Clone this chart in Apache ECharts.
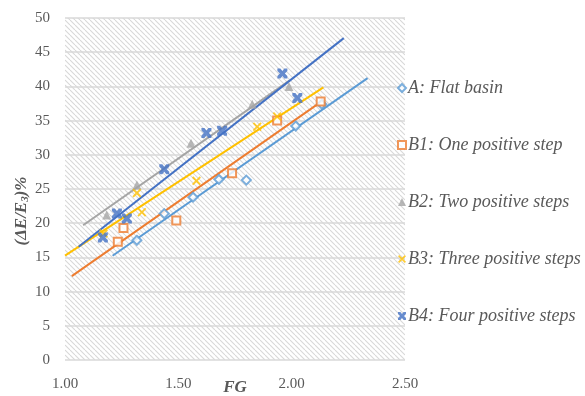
<!DOCTYPE html>
<html>
<head>
<meta charset="utf-8">
<script src="https://cdn.jsdelivr.net/npm/echarts@6/dist/echarts.min.js"></script>
<style>
  html, body { margin: 0; padding: 0; background: #fff; }
  #main { width: 585px; height: 396px; }
</style>
</head>
<body>
<div id="main"></div>
<script>
// 数据：FG - (ΔE/E3)%
var names = ['A: Flat basin', 'B1: One positive step', 'B2: Two positive steps', 'B3: Three positive steps', 'B4: Four positive steps'];
var dataA = [[1.317, 17.5], [1.438, 21.4], [1.565, 23.8], [1.679, 26.4], [1.80, 26.3], [2.018, 34.2], [2.133, 37.4]];
var dataB1 = [[1.233, 17.3], [1.258, 19.3], [1.491, 20.4], [1.737, 27.3], [1.936, 35.0], [2.128, 37.8]];
var dataB2 = [[1.184, 21.2], [1.317, 25.6], [1.556, 31.7], [1.826, 37.4], [1.988, 40.0]];
var dataB3 = [[1.17, 18.5], [1.317, 24.4], [1.339, 21.6], [1.58, 26.2], [1.848, 34.1], [1.936, 35.6]];
var dataB4 = [[1.167, 17.9], [1.229, 21.4], [1.273, 20.7], [1.438, 27.9], [1.624, 33.2], [1.693, 33.5], [1.959, 41.9], [2.025, 38.3]];
// 趋势线的x范围（含前推/后推）
var trendRange = [[1.21, 2.335], [1.03, 2.14], [1.08, 1.99], [1.00, 2.14], [1.06, 2.23]];
var xTicks = [1.0, 2.5, 0.5];
var yTicks = [0, 50, 5];

var colors = ['#5B9BD5', '#ED7D31', '#A5A5A5', '#FFC000', '#4472C4'];
var allData = [dataA, dataB1, dataB2, dataB3, dataB4];

// 线性回归
function fitLine(pts, range) {
    var n = pts.length, sx = 0, sy = 0;
    pts.forEach(function (p) { sx += p[0]; sy += p[1]; });
    var mx = sx / n, my = sy / n, sxy = 0, sxx = 0;
    pts.forEach(function (p) { sxy += (p[0] - mx) * (p[1] - my); sxx += (p[0] - mx) * (p[0] - mx); });
    var k = sxy / sxx, b = my - k * mx;
    return range.map(function (x) { return [x, k * x + b]; });
}

// 斜线底纹
function hatch() {
    var s = 5;
    var c = document.createElement('canvas');
    c.width = s; c.height = s;
    var ctx = c.getContext('2d');
    ctx.fillStyle = '#fff';
    ctx.fillRect(0, 0, s, s);
    ctx.strokeStyle = '#d8d8d8';
    ctx.lineWidth = 1.1;
    [-s, 0, s].forEach(function (k) {
        ctx.beginPath();
        ctx.moveTo(k, 0);
        ctx.lineTo(k + s, s);
        ctx.stroke();
    });
    return c;
}

var symbols = [
    'diamond',
    'rect',
    'triangle',
    'path://M0,1.5 L1.5,0 L5,3.5 L8.5,0 L10,1.5 L6.5,5 L10,8.5 L8.5,10 L5,6.5 L1.5,10 L0,8.5 L3.5,5 Z',
    'path://M0,0 L3,0 L5,2.5 L7,0 L10,0 L10,2.5 L7.5,5 L10,7.5 L10,10 L7,10 L5,7.5 L3,10 L0,10 L0,7.5 L2.5,5 L0,2.5 Z'
];
var sizes = [9, 8, 9, 9, 10];
var hollow = [true, true, false, false, false];

var series = [];
allData.forEach(function (d, i) {
    series.push({
        type: 'line',
        data: fitLine(d, trendRange[i]),
        showSymbol: false,
        silent: true,
        z: 2,
        lineStyle: { color: colors[i], width: 2 },
        itemStyle: { color: colors[i] }
    });
});
allData.forEach(function (d, i) {
    series.push({
        name: names[i],
        type: 'scatter',
        data: d,
        symbol: symbols[i],
        symbolSize: sizes[i],
        z: 3,
        itemStyle: hollow[i]
            ? { color: '#fff', borderColor: colors[i], borderWidth: 2 }
            : { color: colors[i] }
    });
});

var font = 'Liberation Serif';
var myChart = echarts.init(document.getElementById('main'));
var option = {
    animation: false,
    textStyle: { fontFamily: font },
    grid: {
        left: 65, right: 180, top: 18, bottom: 36,
        outerBoundsMode: 'none',
        containLabel: false,
        show: true,
        borderWidth: 0,
        backgroundColor: { image: hatch(), repeat: 'repeat' }
    },
    legend: {
        orient: 'vertical',
        left: 392,
        top: 74,
        itemGap: 39,
        itemWidth: 8,
        itemHeight: 8,
        data: names,
        textStyle: { fontFamily: font, fontStyle: 'italic', fontSize: 18, lineHeight: 18, color: '#595959', padding: [0, 0, 0, -3] }
    },
    xAxis: {
        type: 'value',
        min: xTicks[0], max: xTicks[1], interval: xTicks[2],
        name: 'FG',
        nameLocation: 'middle',
        nameGap: 19,
        nameMoveOverlap: false,
        nameTextStyle: { fontFamily: font, fontStyle: 'italic', fontWeight: 'bold', fontSize: 17, color: '#595959' },
        axisLine: { show: false },
        axisTick: { show: false },
        splitLine: { show: false },
        axisLabel: {
            color: '#595959', fontSize: 15, fontFamily: font, margin: 17,
            formatter: function (v) { return v.toFixed(2); }
        }
    },
    yAxis: {
        type: 'value',
        min: yTicks[0], max: yTicks[1], interval: yTicks[2],
        name: '{b|(ΔE/E}{s|3}{b|)%}{sp|}',
        nameLocation: 'middle',
        nameGap: 34,
        nameMoveOverlap: false,
        nameTextStyle: {
            rich: {
                b: { fontFamily: font, fontStyle: 'italic', fontWeight: 'bold', fontSize: 17, color: '#595959' },
                s: { fontFamily: font, fontStyle: 'italic', fontWeight: 'bold', fontSize: 11, color: '#595959', padding: [8, 0, 0, 0] },
                sp: { width: 44 }
            }
        },
        axisLine: { show: false },
        axisTick: { show: false },
        splitLine: { lineStyle: { color: '#d9d9d9', width: 1.5 } },
        axisLabel: { color: '#595959', fontSize: 15, fontFamily: font, margin: 15 }
    },
    series: series
};
myChart.setOption(option);
</script>
</body>
</html>
